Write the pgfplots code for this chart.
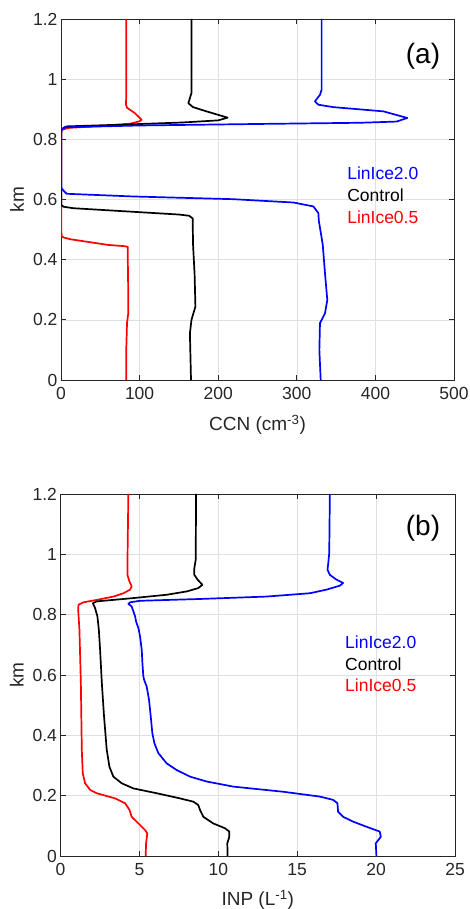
\documentclass[border=0pt]{standalone}
\usepackage{pgfplots}
\pgfplotsset{compat=1.18}
\usepackage{fontspec}
\setmainfont{Liberation Sans}
\definecolor{axgray}{rgb}{0.15,0.15,0.15}
\definecolor{gridgray}{rgb}{0.88,0.88,0.88}
\definecolor{mblue}{rgb}{0,0,1}
\definecolor{mred}{rgb}{1,0,0}

\pgfplotstableread{
x y
83 0
83 0.1
84 0.19
85.5 0.22
85.5 0.30
85 0.40
84.8 0.443
80 0.445
60 0.449
11.5 0.468
3 0.474
1 0.478
0.5 0.49
0.5 0.82
1 0.832
10 0.838
60 0.846
88 0.852
100 0.860
102.6 0.865
94 0.887
84 0.905
82.7 0.915
83 0.95
83 1.2
}\redA

\pgfplotstableread{
x y
165.4 0
164.5 0.1
164 0.155
166 0.2
171 0.244
170 0.35
168 0.45
167.5 0.537
163 0.546
150 0.550
15.7 0.571
3 0.576
0.5 0.582
0.3 0.7
0.3 0.83
3 0.838
7 0.843
80 0.849
155 0.856
200 0.863
212 0.872
185 0.893
168 0.907
162 0.92
166 0.954
166 1.2
}\blackA

\pgfplotstableread{
x y
330.4 0
328.7 0.1
329.5 0.189
335.9 0.222
338.8 0.266
336 0.35
333 0.45
328 0.53
327.4 0.555
321 0.577
295.6 0.59
219 0.601
92 0.61
7.2 0.619
3 0.63
0.5 0.638
0.3 0.75
0.5 0.83
5 0.840
100 0.846
250 0.851
380 0.855
427 0.859
440.6 0.871
410 0.893
346.5 0.907
327.4 0.915
323 0.926
329.5 0.948
331.6 0.965
331.6 1.2
}\blueA

\pgfplotstableread{
x y
5.4 0
5.42 0.04
5.5 0.075
5.36 0.086
4.94 0.108
4.51 0.13
4.37 0.153
4.09 0.175
3.46 0.191
2.3 0.208
1.88 0.219
1.56 0.241
1.41 0.274
1.35 0.352
1.29 0.573
1.2 0.75
1.12 0.816
1.14 0.833
1.46 0.841
2.3 0.849
3.35 0.86
3.99 0.871
4.41 0.883
4.51 0.894
4.37 0.91
4.24 0.932
4.24 0.96
4.3 1.2
}\redB

\pgfplotstableread{
x y
10.59 0
10.57 0.042
10.7 0.064
10.7 0.081
10.42 0.092
9.68 0.108
9.05 0.13
8.84 0.153
8.73 0.169
8.42 0.18
7.57 0.191
6.1 0.208
4.62 0.224
3.88 0.241
3.35 0.263
3.1 0.296
2.93 0.352
2.76 0.462
2.62 0.573
2.51 0.683
2.43 0.75
2.34 0.794
2.19 0.822
2.05 0.838
2.3 0.844
4.62 0.855
6.73 0.866
8.0 0.877
8.73 0.888
8.99 0.899
8.69 0.916
8.48 0.932
8.48 0.954
8.57 0.982
8.59 1.2
}\blackB

\pgfplotstableread{
x y
20.02 0
19.98 0.042
20.3 0.064
20.23 0.081
19.39 0.097
18.54 0.114
17.91 0.13
17.59 0.147
17.55 0.175
17.28 0.186
16.43 0.197
14.11 0.213
10.95 0.23
9.26 0.247
8.21 0.263
7.36 0.285
6.73 0.307
6.2 0.341
5.95 0.374
5.82 0.407
5.72 0.462
5.61 0.518
5.46 0.562
5.3 0.584
5.25 0.595
5.19 0.639
5.15 0.683
5.04 0.728
4.94 0.755
4.79 0.777
4.73 0.794
4.62 0.811
4.51 0.827
4.3 0.836
4.41 0.841
5.04 0.846
8.84 0.852
13.06 0.86
15.8 0.871
16.86 0.883
17.7 0.896
17.91 0.905
17.49 0.916
17.07 0.932
16.92 0.949
16.97 0.971
17.03 1.005
17.07 1.2
}\blueB

\pgfplotsset{myaxis/.style={
  scale only axis,
  ymin=0, ymax=1.2,
  ytick={0,0.2,0.4,0.6,0.8,1,1.2},
  yticklabels={0,0.2,0.4,0.6,0.8,1,1.2},
  grid=major,
  major grid style={draw=gridgray, line width=0.6pt},
  axis line style={draw=axgray, line width=0.8pt},
  tick style={draw=axgray, line width=0.8pt},
  major tick length=5pt,
  tick align=inside,
  /pgf/number format/assume math mode=true,
  ticklabel style={font=\fontsize{17.5}{17.5}\selectfont, text=axgray},
  xticklabel style={yshift=-4pt},
  label style={font=\fontsize{19}{19}\selectfont, text=axgray},
  ylabel={km},
  every axis plot/.append style={line width=1.7pt, line join=round},
}}

\begin{document}
\begin{tikzpicture}
\path[use as bounding box] (0pt,0pt) rectangle (470pt,909pt);
\begin{axis}[myaxis,
  at={(61pt,529pt)}, anchor=south west,
  width=393pt, height=361pt,
  xmin=0, xmax=500, xtick={0,100,200,300,400,500},
  ylabel style={at={(axis description cs:-0.112,0.5)}, anchor=center},
  xlabel style={at={(axis description cs:0.5,-0.1247)}, anchor=center},
  xlabel={CCN (cm\textsuperscript{-3})}]
\addplot[mred] table[x=x,y=y] {\redA};
\addplot[black] table[x=x,y=y] {\blackA};
\addplot[mblue] table[x=x,y=y] {\blueA};
\node[anchor=west, inner sep=0pt, text=mblue, font=\fontsize{17.5}{17.5}\selectfont] at (axis cs:364,0.688) {LinIce2.0};
\node[anchor=west, inner sep=0pt, text=black, font=\fontsize{17.5}{17.5}\selectfont] at (axis cs:364,0.614) {Control};
\node[anchor=west, inner sep=0pt, text=mred, font=\fontsize{17.5}{17.5}\selectfont] at (axis cs:364,0.542) {LinIce0.5};
\node[inner sep=0pt, font=\fontsize{28}{28}\selectfont] at (axis cs:460.6,1.076) {(a)};
\end{axis}
\begin{axis}[myaxis,
  at={(60.5pt,53pt)}, anchor=south west,
  width=394.5pt, height=362pt,
  xmin=0, xmax=25, xtick={0,5,10,15,20,25},
  ylabel style={at={(axis description cs:-0.111,0.5)}, anchor=center},
  xlabel style={at={(axis description cs:0.5,-0.1215)}, anchor=center},
  xlabel={INP (L\textsuperscript{-1})}]
\addplot[mred] table[x=x,y=y] {\redB};
\addplot[black] table[x=x,y=y] {\blackB};
\addplot[mblue] table[x=x,y=y] {\blueB};
\node[anchor=west, inner sep=0pt, text=mblue, font=\fontsize{17.5}{17.5}\selectfont] at (axis cs:18.03,0.707) {LinIce2.0};
\node[anchor=west, inner sep=0pt, text=black, font=\fontsize{17.5}{17.5}\selectfont] at (axis cs:18.03,0.637) {Control};
\node[anchor=west, inner sep=0pt, text=mred, font=\fontsize{17.5}{17.5}\selectfont] at (axis cs:18.03,0.566) {LinIce0.5};
\node[inner sep=0pt, font=\fontsize{28}{28}\selectfont] at (axis cs:22.97,1.085) {(b)};
\end{axis}
\end{tikzpicture}
\end{document}
